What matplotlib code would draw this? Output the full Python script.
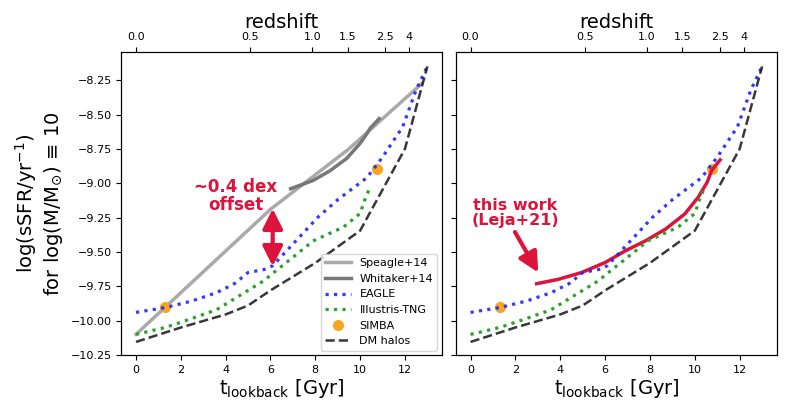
import numpy as np
import matplotlib
matplotlib.use('Agg')
import matplotlib.pyplot as plt

# lookback time [Gyr] vs log sSFR at logM = 10
speagle_t = [0.0, 6.0, 9.5, 12.75]
speagle_y = [-10.10, -9.19, -8.75, -8.275]

whitaker_t = [6.9, 7.9, 8.65, 9.4, 10.0, 10.3, 10.45, 10.85]
whitaker_y = [-9.04, -8.98, -8.91, -8.82, -8.71, -8.64, -8.60, -8.53]

eagle_t = [0.0, 1.3, 2.5, 3.6, 4.4, 5.0, 5.8, 6.1, 7.0, 8.1, 9.0, 10.3, 11.0, 11.9, 12.5, 13.0]
eagle_y = [-9.94, -9.905, -9.857, -9.796, -9.73, -9.65, -9.625, -9.60, -9.443, -9.25,
           -9.12, -8.96, -8.81, -8.59, -8.32, -8.15]

tng_t = [0.0, 1.3, 2.4, 3.6, 4.6, 5.7, 6.3, 7.3, 7.9, 9.25, 10.0, 10.25, 10.45]
tng_y = [-10.10, -10.05, -9.99, -9.92, -9.82, -9.71, -9.63, -9.50, -9.42, -9.32,
         -9.22, -9.10, -9.03]

simba_t = [1.3, 10.75]
simba_y = [-9.90, -8.90]

dm_t = [0.0, 2.0, 4.0, 5.0, 6.0, 8.0, 10.0, 12.0, 13.0]
dm_y = [-10.155, -10.05, -9.955, -9.89, -9.78, -9.58, -9.345, -8.75, -8.15]

leja_t = [2.95, 3.9, 4.95, 6.0, 6.9, 7.8, 8.7, 9.55, 10.15, 10.55, 10.75, 11.13]
leja_y = [-9.731, -9.70, -9.65, -9.577, -9.492, -9.419, -9.333, -9.224, -9.102,
          -8.993, -8.907, -8.83]

z_labels = ['0.0', '0.5', '1.0', '1.5', '2.5', '4']
z_tlook = [0.0, 5.1, 7.87, 9.44, 11.12, 12.2]

y_ticks = [-8.25, -8.5, -8.75, -9.0, -9.25, -9.5, -9.75, -10.0, -10.25]

red = '#DC143C'

fig = plt.figure(figsize=(7.89, 4.15), dpi=100)
ax1 = fig.add_axes([0.1539, 0.1446, 0.4062, 0.7301])
ax2 = fig.add_axes([0.5779, 0.1446, 0.4065, 0.7301])


def draw_sims(ax):
    ax.plot(eagle_t, eagle_y, ':', color='#2222ff', alpha=0.9, lw=2.3, label='EAGLE', zorder=3)
    ax.plot(tng_t, tng_y, ':', color='#2ca02c', lw=2.3, label='Illustris-TNG', zorder=3)
    ax.plot(simba_t, simba_y, 'o', color='#F5A623', ms=7, label='SIMBA', zorder=2.5)
    ax.plot(dm_t, dm_y, '--', color='#222222', alpha=0.9, lw=1.8, label='DM halos', zorder=3)


ax1.plot(speagle_t, speagle_y, '-', color='#aaaaaa', lw=2.5, label='Speagle+14')
ax1.plot(whitaker_t, whitaker_y, '-', color='#777777', lw=2.5, label='Whitaker+14')
draw_sims(ax1)

ax2.plot(leja_t, leja_y, '-', color=red, lw=2.5, zorder=2.8)
draw_sims(ax2)

for ax in (ax1, ax2):
    ax.set_xlim(-0.65, 13.65)
    ax.set_ylim(-10.25, -8.045)
    ax.set_xticks([0, 2, 4, 6, 8, 10, 12])
    ax.set_yticks(y_ticks)
    ax.tick_params(labelsize=8)
    ax.set_xlabel(r'$\rm t_{lookback}$ [Gyr]', fontsize=14, labelpad=2)
    top = ax.twiny()
    top.set_xlim(ax.get_xlim())
    top.set_xticks(z_tlook)
    top.set_xticklabels(z_labels)
    top.tick_params(labelsize=8)
    top.set_xlabel('redshift', fontsize=14, labelpad=3)

ax2.set_yticklabels([])
ax1.set_ylabel('log(sSFR/yr$^{-1}$)\nfor log(M/M$_{\\odot}$) \u2261 10', fontsize=14)

leg = ax1.legend(loc='lower right', fontsize=8, handlelength=2.3, borderaxespad=0.4)

# offset annotation
ax1.text(4.45, -9.09, '~0.4 dex\noffset', color=red, fontsize=12, fontweight='bold',
         ha='center', va='center', linespacing=1.0)
ax1.annotate('', xy=(6.1, -9.605), xytext=(6.1, -9.185),
             arrowprops=dict(arrowstyle='<|-|>,head_length=0.6,head_width=0.3',
                             color=red, lw=3, mutation_scale=20, shrinkA=0, shrinkB=0))

ax2.text(1.98, -9.22, 'this work\n(Leja+21)', color=red, fontsize=11.5, fontweight='bold',
         ha='center', va='center', linespacing=1.0)
ax2.annotate('', xy=(3.02, -9.65), xytext=(1.98, -9.355),
             arrowprops=dict(arrowstyle='-|>,head_length=0.6,head_width=0.3',
                             color=red, lw=3, mutation_scale=20, shrinkA=0, shrinkB=0))

fig.savefig('out.png', dpi=100)
